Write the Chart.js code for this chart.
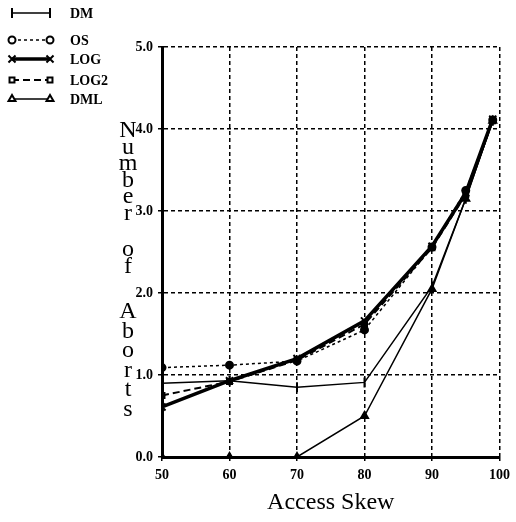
<!DOCTYPE html>
<html>
<head>
<meta charset="utf-8">
<script src="https://cdn.jsdelivr.net/npm/chart.js@4/dist/chart.umd.min.js"></script>
<style>
  html, body { margin: 0; padding: 0; background: #fff; }
  #wrap { width: 516px; height: 522px; }
</style>
</head>
<body>
<div id="wrap"><canvas id="chart" width="516" height="522"></canvas></div>
<script>
// Access skew values on the x axis
var skew = [50, 60, 70, 80, 90, 95, 99];

// Number of aborts per protocol
var dm   = [0.90, 0.93, 0.85, 0.91, 2.08, 3.15, 4.10];
var os   = [1.09, 1.12, 1.17, 1.55, 2.56, 3.25, 4.11];
var log  = [0.61, 0.93, 1.20, 1.66, 2.57, 3.22, 4.12];
var log2 = [0.75, 0.92, 1.18, 1.62, 2.55, 3.20, 4.10];
var dml  = [0.00, 0.00, 0.00, 0.50, 2.05, 3.15, 4.10];

var seriesNames = ['DM', 'OS', 'LOG', 'LOG2', 'DML'];
var xTitle = 'Access Skew';
var yTitleWords = ['Number', 'of', 'Aborts'];

var serif = "'Liberation Serif', 'DejaVu Serif', serif";

function pts(vals) {
    return skew.map(function (x, i) { return { x: x, y: vals[i] }; });
}

// look of each series: line width, dash, point style
var looks = [
    { width: 1.5, dash: [],     point: 'line',     radius: 5, rotation: 90 },
    { width: 1.5, dash: [3, 3], point: 'circle',   radius: 3.5, rotation: 0 },
    { width: 3.5, dash: [],     point: 'crossRot', radius: 5, rotation: 0 },
    { width: 2,   dash: [7, 4], point: 'rect',     radius: 3.5, rotation: 0 },
    { width: 1.5, dash: [],     point: 'triangle', radius: 4, rotation: 0 }
];

var allData = [dm, os, log, log2, dml];

var datasets = allData.map(function (vals, i) {
    var lk = looks[i];
    return {
        label: seriesNames[i],
        data: pts(vals),
        borderColor: '#000',
        backgroundColor: '#000',
        borderWidth: lk.width,
        borderDash: lk.dash,
        pointStyle: lk.point,
        pointRadius: lk.radius,
        pointRotation: lk.rotation,
        pointBorderWidth: 2,
        pointBackgroundColor: '#000',
        pointBorderColor: '#000',
        tension: 0,
        fill: false
    };
});

// legend in the top left corner + the axis titles
var decor = {
    id: 'decor',
    afterDraw: function (chart) {
        var ctx = chart.ctx;
        ctx.save();

        // legend (open markers like the scan)
        var rows = [13, 40, 59, 80, 99];
        seriesNames.forEach(function (name, i) {
            var lk = looks[i];
            var y = rows[i];
            ctx.strokeStyle = '#000';
            ctx.lineWidth = lk.width;
            ctx.setLineDash(lk.dash);
            ctx.beginPath();
            ctx.moveTo(12, y);
            ctx.lineTo(50, y);
            ctx.stroke();
            ctx.setLineDash([]);
            ctx.fillStyle = '#fff';
            ctx.strokeStyle = '#000';
            ctx.lineWidth = 2;
            [12, 50].forEach(function (px) {
                Chart.helpers.drawPoint(ctx, {
                    pointStyle: lk.point,
                    radius: lk.radius,
                    rotation: lk.rotation,
                    borderWidth: 2
                }, px, y);
            });
            ctx.font = 'bold 14px ' + serif;
            ctx.textAlign = 'left';
            ctx.textBaseline = 'middle';
            ctx.fillStyle = '#000';
            ctx.fillText(name, 70, y + 1);
        });

        // x title
        ctx.fillStyle = '#000';
        ctx.font = '24px ' + serif;
        ctx.textAlign = 'center';
        ctx.textBaseline = 'middle';
        var area = chart.chartArea;
        ctx.fillText(xTitle, (area.left + area.right) / 2, 503);

        // y title, letters stacked upright
        var starts = [131, 250, 312];
        var steps = [16.5, 17, 19.5];
        yTitleWords.forEach(function (word, w) {
            for (var k = 0; k < word.length; k++) {
                ctx.fillText(word[k], 128, starts[w] + k * steps[w]);
            }
        });
        ctx.restore();
    }
};

var tickFont = { family: serif, size: 14, weight: 'bold' };

new Chart(document.getElementById('chart'), {
    type: 'line',
    data: { datasets: datasets },
    options: {
        responsive: false,
        animation: false,
        layout: { padding: { top: 47, right: 13, bottom: 0, left: 0 } },
        plugins: {
            legend: { display: false },
            tooltip: { enabled: false }
        },
        scales: {
            x: {
                type: 'linear',
                min: 50,
                max: 100,
                ticks: { stepSize: 10, color: '#000', font: tickFont, padding: 6 },
                grid: { color: '#000', lineWidth: 1.5, tickLength: 4, tickBorderDash: [] },
                // in v4 border.dash dashes the grid lines, the border stays solid
                border: { color: '#000', width: 3, dash: [4, 3] },
                afterFit: function (s) { s.height = 65; }
            },
            y: {
                min: 0,
                max: 5,
                ticks: {
                    stepSize: 1,
                    color: '#000',
                    font: tickFont,
                    padding: 5,
                    callback: function (v) { return v.toFixed(1); }
                },
                grid: { color: '#000', lineWidth: 1.5, tickLength: 4, tickBorderDash: [] },
                border: { color: '#000', width: 3, dash: [4, 3] },
                afterFit: function (s) { s.width = 162; }
            }
        }
    },
    plugins: [decor]
});
</script>
</body>
</html>
